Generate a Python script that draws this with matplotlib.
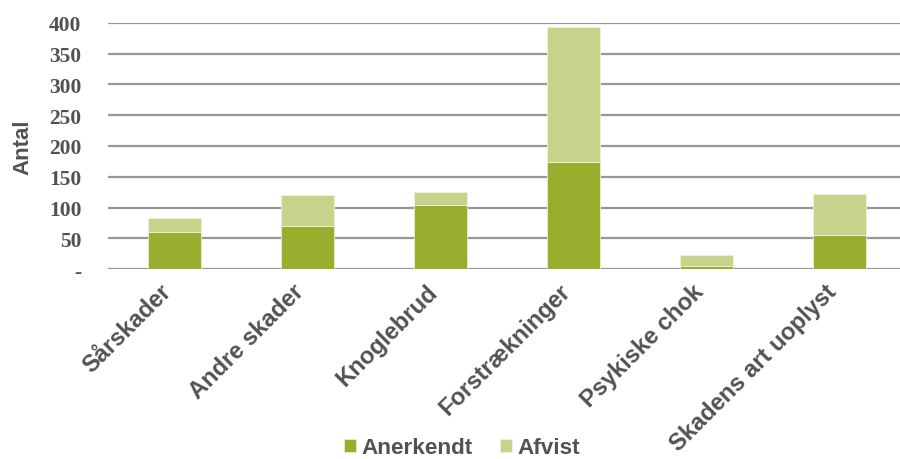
import numpy as np
import matplotlib.pyplot as plt
from matplotlib.transforms import ScaledTranslation

categories = ["Sårskader", "Andre skader", "Knoglebrud", "Forstrækninger",
              "Psykiske chok", "Skadens art uoplyst"]
anerkendt = [60, 70, 104, 174, 5, 55]
afvist = [23, 51, 22, 220, 18, 67]
yticks = [0, 50, 100, 150, 200, 250, 300, 350, 400]
ytick_labels = ["-", "50", "100", "150", "200", "250", "300", "350", "400"]

dark_green = "#9BAD2E"
light_green = "#C6D38B"
text_col = "#525252"

fig = plt.figure(figsize=(9, 4.6), dpi=100)
ax = fig.add_axes([108 / 900, 190 / 460, 798 / 900, 246 / 460])

x = np.arange(len(categories))
ax.bar(x, anerkendt, width=0.4, color=dark_green, edgecolor="#e8eed0",
       linewidth=0.6, label="Anerkendt", zorder=3)
ax.bar(x, afvist, width=0.4, bottom=anerkendt, color=light_green,
       edgecolor="#eef2dc", linewidth=0.6, label="Afvist", zorder=3)

ax.set_xlim(-0.5, len(categories) - 0.5)
ax.set_ylim(0, 400)
ax.set_yticks(yticks)
ax.set_yticklabels(ytick_labels, family="Liberation Serif", fontweight="bold",
                   fontsize=15.5, color=text_col)
ax.set_xticks(x)
ax.set_xticklabels(categories, rotation=45, ha="right", va="top",
                   rotation_mode="anchor", family="Liberation Sans",
                   fontweight="bold", fontsize=17, color=text_col)
ax.tick_params(axis="both", length=0)
ax.tick_params(axis="y", pad=19)
ax.tick_params(axis="x", pad=4)

# nudge the slanted category labels left/down like the original
shift = ScaledTranslation(-15 / 100, -5 / 100, fig.dpi_scale_trans)
for lbl in ax.get_xticklabels():
    lbl.set_transform(lbl.get_transform() + shift)

ax.yaxis.grid(True, color="#979797", linewidth=1.6, zorder=0)
ax.set_axisbelow(True)
for s in ax.spines.values():
    s.set_visible(False)

ax.set_ylabel("Antal", family="Liberation Sans", fontweight="bold",
              fontsize=16, color=text_col)
ax.yaxis.set_label_coords(-75 / 798, 0.5)

fig.legend(loc="center", bbox_to_anchor=(462 / 900, 11 / 460), ncol=2,
           frameon=False, handlelength=0.55, handleheight=0.55,
           handletextpad=0.25, columnspacing=1.2,
           prop={"family": "Liberation Sans", "weight": "bold", "size": 16.2},
           labelcolor=text_col)

fig.savefig("out.png", dpi=100)
